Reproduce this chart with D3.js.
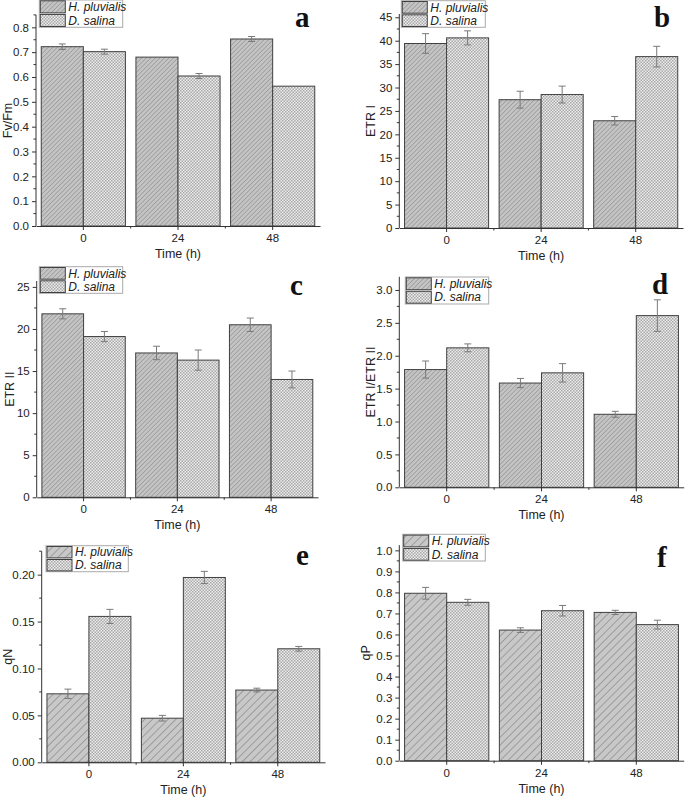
<!DOCTYPE html>
<html><head><meta charset="utf-8">
<script src="https://cdn.jsdelivr.net/npm/d3@7"></script>
<style>body{margin:0;background:#fff} svg{display:block}</style>
</head><body><svg id="c" width="685" height="797"></svg>
<script>
// ---- data ----
const categories = ["0", "24", "48"];
const seriesNames = ["H. pluvialis", "D. salina"];
const xTitle = "Time (h)";

const fvfmH = [0.722, 0.68, 0.753],  fvfmHErr = [0.011, 0, 0.01];
const fvfmD = [0.702, 0.604, 0.563], fvfmDErr = [0.01, 0.01, 0];
const etr1H = [39.4, 27.4, 22.9],    etr1HErr = [2.1, 1.8, 0.9];
const etr1D = [40.6, 28.5, 36.6],    etr1DErr = [1.5, 1.8, 2.2];
const etr2H = [21.8, 17.15, 20.5],   etr2HErr = [0.6, 0.8, 0.8];
const etr2D = [19.1, 16.3, 14.0],    etr2DErr = [0.6, 1.2, 1.0];
const ratioH = [1.79, 1.585, 1.11],  ratioHErr = [0.13, 0.07, 0.045];
const ratioD = [2.12, 1.74, 2.61],   ratioDErr = [0.06, 0.14, 0.24];
const qnH = [0.073, 0.047, 0.077],   qnHErr = [0.005, 0.003, 0.002];
const qnD = [0.1555, 0.197, 0.121],  qnDErr = [0.0075, 0.0065, 0.0025];
const qpH = [0.796, 0.621, 0.705],   qpHErr = [0.028, 0.011, 0.01];
const qpD = [0.753, 0.713, 0.647],   qpDErr = [0.014, 0.025, 0.021];

const yTicksA = [0, 0.1, 0.2, 0.3, 0.4, 0.5, 0.6, 0.7, 0.8];
const yTicksB = [0, 5, 10, 15, 20, 25, 30, 35, 40, 45];
const yTicksC = [0, 5, 10, 15, 20, 25];
const yTicksD = [0, 0.5, 1.0, 1.5, 2.0, 2.5, 3.0];
const yTicksE = [0, 0.05, 0.10, 0.15, 0.20];
const yTicksF = [0, 0.1, 0.2, 0.3, 0.4, 0.5, 0.6, 0.7, 0.8, 0.9, 1.0];

// ---- layout ----
const panels = [
  {letter:"a", title:"Fv/Fm", H:fvfmH, He:fvfmHErr, D:fvfmD, De:fvfmDErr, ticks:yTicksA, fmt:".1f", max:0.85,
   left:36, right:320, bottom:226, top:14.9, titleX:7, letterX:295, letterY:27, lg:[39.3,0,83.4,27.3], hatch:"hd"},
  {letter:"b", title:"ETR I", H:etr1H, He:etr1HErr, D:etr1D, De:etr1DErr, ticks:yTicksB, fmt:"d", max:45.7,
   left:399.3, right:683, bottom:228, top:14, titleX:370, letterX:654, letterY:27, lg:[401.3,0.7,84,26.6], hatch:"hd"},
  {letter:"c", title:"ETR II", H:etr2H, He:etr2HErr, D:etr2D, De:etr2DErr, ticks:yTicksC, fmt:"d", max:25.7,
   left:36.7, right:318, bottom:497.3, top:281, titleX:9, letterX:290, letterY:295, lg:[39.3,266.7,83.4,26.6], hatch:"hd"},
  {letter:"d", title:"ETR I/ETR II", H:ratioH, He:ratioHErr, D:ratioD, De:ratioDErr, ticks:yTicksD, fmt:".1f", max:3.2,
   left:399.3, right:683.7, bottom:487.3, top:276.8, titleX:370, letterX:652, letterY:294, lg:[405.3,277,83.4,27], hatch:"hd"},
  {letter:"e", title:"qN", H:qnH, He:qnHErr, D:qnD, De:qnDErr, ticks:yTicksE, fmt:".2f", max:0.225,
   left:41.7, right:325, bottom:762.3, top:551.2, titleX:7, letterX:296, letterY:565, lg:[46,545.7,82.3,26], hatch:"hw"},
  {letter:"f", title:"qP", H:qpH, He:qpHErr, D:qpD, De:qpDErr, ticks:yTicksF, fmt:".1f", max:1.025,
   left:399.3, right:683.7, bottom:760.7, top:545.1, titleX:365, letterX:657, letterY:567, lg:[402.7,534.3,82.6,26.7], hatch:"hw"}
];

const svg = d3.select("#c");
const defs = svg.append("defs");

// dense hatch
const hd = defs.append("pattern").attr("id","hd").attr("patternUnits","userSpaceOnUse")
  .attr("width",3.2).attr("height",3.2).attr("patternTransform","rotate(45)");
hd.append("rect").attr("width",3.2).attr("height",3.2).attr("fill","#c4c4c4");
hd.append("line").attr("x1",0).attr("y1",0).attr("x2",0).attr("y2",3.2).attr("stroke","#8a8a8a").attr("stroke-width",1.1);
// wide hatch
const hw = defs.append("pattern").attr("id","hw").attr("patternUnits","userSpaceOnUse")
  .attr("width",5.5).attr("height",5.5).attr("patternTransform","rotate(45)");
hw.append("rect").attr("width",5.5).attr("height",5.5).attr("fill","#c8c8c8");
hw.append("line").attr("x1",0).attr("y1",0).attr("x2",0).attr("y2",5.5).attr("stroke","#8a8a8a").attr("stroke-width",1.4);
// checker
const ck = defs.append("pattern").attr("id","ck").attr("patternUnits","userSpaceOnUse")
  .attr("width",3).attr("height",3);
ck.append("rect").attr("width",3).attr("height",3).attr("fill","#ededed");
ck.append("rect").attr("width",1.5).attr("height",1.5).attr("fill","#a8a8a8");
ck.append("rect").attr("x",1.5).attr("y",1.5).attr("width",1.5).attr("height",1.5).attr("fill","#a8a8a8");

const font = "'Liberation Sans', Arial, sans-serif";
const axisColor = "#333";

panels.forEach(p => {
  const g = svg.append("g");
  const x = d3.scaleBand().domain(categories).range([p.left, p.right]).padding(0);
  const inner = d3.scaleBand().domain([0,1]).range([0, x.bandwidth()]).paddingOuter(0.125).paddingInner(0);
  const y = d3.scaleLinear().domain([0, p.max]).range([p.bottom, p.top]);

  const rows = [];
  categories.forEach((c, i) => {
    rows.push({c, s:0, v:p.H[i], e:p.He[i], fill:`url(#${p.hatch})`});
    rows.push({c, s:1, v:p.D[i], e:p.De[i], fill:"url(#ck)"});
  });

  // bars
  g.selectAll("rect.bar").data(rows).enter().append("rect")
    .attr("x", d => x(d.c) + inner(d.s))
    .attr("y", d => y(d.v))
    .attr("width", inner.bandwidth())
    .attr("height", d => y(0) - y(d.v))
    .attr("fill", d => d.fill)
    .attr("stroke", "#404040").attr("stroke-width", 1);

  // error bars
  const eb = g.selectAll("g.eb").data(rows.filter(d => d.e > 0)).enter().append("g")
    .attr("stroke", "#7a7a7a").attr("stroke-width", 1);
  const cx = d => x(d.c) + inner(d.s) + inner.bandwidth()/2;
  eb.append("line").attr("x1", cx).attr("x2", cx).attr("y1", d => y(d.v + d.e)).attr("y2", d => y(d.v - d.e));
  eb.append("line").attr("x1", d => cx(d)-3.5).attr("x2", d => cx(d)+3.5).attr("y1", d => y(d.v + d.e)).attr("y2", d => y(d.v + d.e));
  eb.append("line").attr("x1", d => cx(d)-3.5).attr("x2", d => cx(d)+3.5).attr("y1", d => y(d.v - d.e)).attr("y2", d => y(d.v - d.e));

  // y axis
  const yAxis = d3.axisLeft(y).tickValues(p.ticks).tickFormat(d3.format(p.fmt)).tickSize(4).tickPadding(3);
  const ya = g.append("g").attr("transform", `translate(${p.left},0)`).call(yAxis);
  ya.select(".domain").attr("d", `M-0,${p.bottom}V${p.top}`);
  const step = p.ticks[1] - p.ticks[0];
  const minors = [];
  for (let v = step/2; v < p.max; v += step) minors.push(v);
  const minorsFiltered = minors.filter(v => !p.ticks.some(t => Math.abs(t - v) < 1e-9));
  ya.selectAll("line.minor").data(minorsFiltered).enter().append("line")
    .attr("x1", -2.5).attr("x2", 0).attr("y1", d => y(d)).attr("y2", d => y(d)).attr("stroke", axisColor);

  // x axis
  const xa = g.append("g").attr("transform", `translate(0,${p.bottom})`)
    .call(d3.axisBottom(x).tickSize(4).tickPadding(4).tickSizeOuter(0));
  const bounds = [];
  for (let i = 1; i < categories.length; i++) bounds.push(x(categories[i]));
  xa.selectAll("line.minor").data(bounds).enter().append("line")
    .attr("x1", d => d).attr("x2", d => d).attr("y1", 0).attr("y2", 2.5).attr("stroke", axisColor);

  [ya, xa].forEach(a => {
    a.selectAll("text").attr("font-family", font).attr("font-size", 11.5).attr("fill", "#222");
    a.selectAll("line").attr("stroke", axisColor);
    a.select(".domain").attr("stroke", axisColor);
  });

  // titles
  g.append("text").attr("x", (p.left + p.right)/2).attr("y", p.bottom + 32)
    .attr("text-anchor", "middle").attr("font-family", font).attr("font-size", 12.5).attr("fill", "#222").text(xTitle);
  const ym = (p.bottom + p.top)/2;
  g.append("text").attr("transform", `translate(${p.titleX + 4.5},${ym}) rotate(-90)`)
    .attr("text-anchor", "middle").attr("font-family", font).attr("font-size", 12.5).attr("fill", "#222").text(p.title);

  // panel letter
  g.append("text").attr("x", p.letterX).attr("y", p.letterY)
    .attr("font-family", "'Liberation Serif', 'Times New Roman', serif").attr("font-weight", "bold")
    .attr("font-size", 29).attr("fill", "#111").text(p.letter);

  // legend
  const [lx, ly, lw, lh] = p.lg;
  const lg = g.append("g");
  lg.append("rect").attr("x", lx).attr("y", ly).attr("width", lw).attr("height", lh)
    .attr("fill", "#fff").attr("stroke", "#aaa").attr("stroke-width", 1);
  const rh = lh / 2;
  seriesNames.forEach((s, i) => {
    lg.append("rect").attr("x", lx + 1).attr("y", ly + i*rh + 0.8).attr("width", 25).attr("height", rh - 1.6)
      .attr("fill", i === 0 ? `url(#${p.hatch})` : "url(#ck)").attr("stroke", "#404040");
    lg.append("text").attr("x", lx + 29).attr("y", ly + i*rh + rh/2 + 4.2)
      .attr("font-family", font).attr("font-style", "italic").attr("font-size", 12).attr("fill", "#222").text(s);
  });
});
</script></body></html>
